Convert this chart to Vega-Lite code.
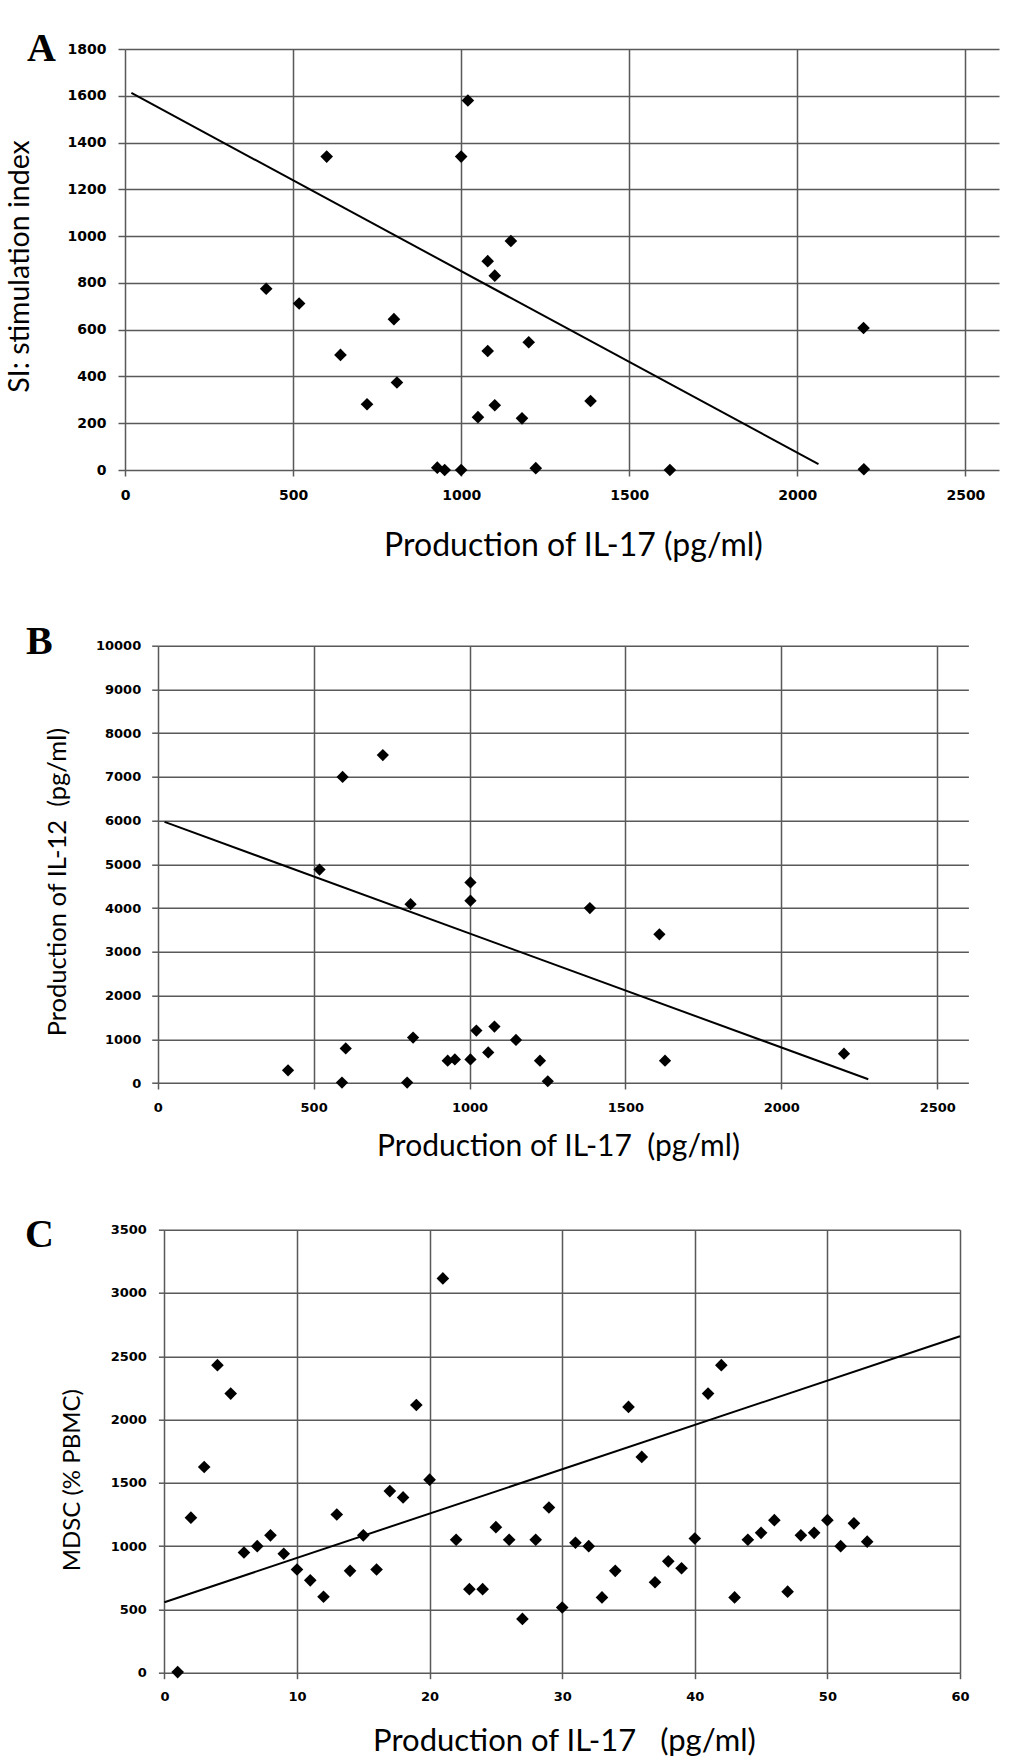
{
  "$schema": "https://vega.github.io/schema/vega-lite/v6.json",
  "background": "white",
  "padding": {"left": 5, "top": 29, "right": 5, "bottom": 0},
  "bounds": "flush",
  "spacing": 175.7,
  "datasets": {
    "pointsA": [
      {"il17": 420, "si": 775}, {"il17": 518, "si": 712}, {"il17": 600, "si": 1340},
      {"il17": 641, "si": 492}, {"il17": 720, "si": 281}, {"il17": 800, "si": 645},
      {"il17": 809, "si": 374}, {"il17": 929, "si": 10}, {"il17": 951, "si": 0},
      {"il17": 1000, "si": 1340}, {"il17": 1000, "si": 0}, {"il17": 1020, "si": 1580},
      {"il17": 1050, "si": 226}, {"il17": 1079, "si": 893}, {"il17": 1079, "si": 509},
      {"il17": 1100, "si": 831}, {"il17": 1100, "si": 277}, {"il17": 1148, "si": 979},
      {"il17": 1181, "si": 221}, {"il17": 1201, "si": 546}, {"il17": 1222, "si": 8},
      {"il17": 1385, "si": 295}, {"il17": 1621, "si": 0}, {"il17": 2197, "si": 607},
      {"il17": 2198, "si": 3}
    ],
    "trendA": [{"il17": 19, "si": 1612}, {"il17": 2063, "si": 25}],
    "pointsB": [
      {"il17": 418, "il12": 290}, {"il17": 519, "il12": 4880}, {"il17": 591, "il12": 10},
      {"il17": 593, "il12": 7000}, {"il17": 603, "il12": 790}, {"il17": 722, "il12": 7500},
      {"il17": 800, "il12": 10}, {"il17": 811, "il12": 4090}, {"il17": 819, "il12": 1040},
      {"il17": 930, "il12": 510}, {"il17": 953, "il12": 540}, {"il17": 1003, "il12": 540},
      {"il17": 1003, "il12": 4170}, {"il17": 1003, "il12": 4585}, {"il17": 1022, "il12": 1200},
      {"il17": 1060, "il12": 700}, {"il17": 1080, "il12": 1290}, {"il17": 1149, "il12": 985},
      {"il17": 1226, "il12": 510}, {"il17": 1251, "il12": 40}, {"il17": 1386, "il12": 4000},
      {"il17": 1609, "il12": 3400}, {"il17": 1627, "il12": 510}, {"il17": 2201, "il12": 670}
    ],
    "trendB": [{"il17": 22, "il12": 5970}, {"il17": 2279, "il12": 85}],
    "pointsC": [
      {"il17": 1, "mdsc": 5}, {"il17": 2, "mdsc": 1225}, {"il17": 3, "mdsc": 1625},
      {"il17": 4, "mdsc": 2430}, {"il17": 5, "mdsc": 2205}, {"il17": 6, "mdsc": 950},
      {"il17": 7, "mdsc": 1000}, {"il17": 8, "mdsc": 1085}, {"il17": 9, "mdsc": 940},
      {"il17": 10, "mdsc": 815}, {"il17": 11, "mdsc": 730}, {"il17": 12, "mdsc": 600},
      {"il17": 13, "mdsc": 1250}, {"il17": 14, "mdsc": 805}, {"il17": 15, "mdsc": 1085},
      {"il17": 16, "mdsc": 815}, {"il17": 17, "mdsc": 1435}, {"il17": 18, "mdsc": 1385},
      {"il17": 19, "mdsc": 2115}, {"il17": 20, "mdsc": 1525}, {"il17": 21, "mdsc": 3115},
      {"il17": 22, "mdsc": 1050}, {"il17": 23, "mdsc": 660}, {"il17": 24, "mdsc": 660},
      {"il17": 25, "mdsc": 1150}, {"il17": 26, "mdsc": 1050}, {"il17": 27, "mdsc": 425},
      {"il17": 28, "mdsc": 1050}, {"il17": 29, "mdsc": 1305}, {"il17": 30, "mdsc": 515},
      {"il17": 31, "mdsc": 1027}, {"il17": 32, "mdsc": 1000}, {"il17": 33, "mdsc": 595},
      {"il17": 34, "mdsc": 805}, {"il17": 35, "mdsc": 2100}, {"il17": 36, "mdsc": 1705},
      {"il17": 37, "mdsc": 715}, {"il17": 38, "mdsc": 880}, {"il17": 39, "mdsc": 825},
      {"il17": 40, "mdsc": 1060}, {"il17": 41, "mdsc": 2205}, {"il17": 42, "mdsc": 2430},
      {"il17": 43, "mdsc": 595}, {"il17": 44, "mdsc": 1050}, {"il17": 45, "mdsc": 1105},
      {"il17": 46, "mdsc": 1205}, {"il17": 47, "mdsc": 640}, {"il17": 48, "mdsc": 1085},
      {"il17": 49, "mdsc": 1105}, {"il17": 50, "mdsc": 1205}, {"il17": 51, "mdsc": 1000},
      {"il17": 52, "mdsc": 1180}, {"il17": 53, "mdsc": 1035}
    ],
    "trendC": [{"il17": 0, "mdsc": 557}, {"il17": 60, "mdsc": 2658}]
  },
  "vconcat": [
    {
      "width": 874,
      "height": 421,
      "title": {"text": "A", "dx": -98, "dy": 31},
      "layer": [
        {
          "data": {"name": "pointsA"},
          "mark": {"type": "point", "shape": "diamond", "filled": true, "color": "black", "opacity": 1, "size": 160},
          "encoding": {
            "x": {
              "field": "il17", "type": "quantitative",
              "scale": {"domain": [0, 2500]},
              "axis": {
                "values": [0, 500, 1000, 1500, 2000, 2500],
                "labelFontSize": 14,
                "title": "Production of IL-17 (pg/ml)",
                "titleFontSize": 32,
                "titleX": 448, "titleY": 85
              }
            },
            "y": {
              "field": "si", "type": "quantitative",
              "scale": {"domain": [0, 1800]},
              "axis": {
                "values": [0, 200, 400, 600, 800, 1000, 1200, 1400, 1600, 1800],
                "labelFontSize": 14,
                "tickSize": 7,
                "title": "SI: stimulation index",
                "titleFontSize": 28.5,
                "titleX": -97, "titleY": 217
              }
            }
          }
        },
        {
          "data": {"name": "trendA"},
          "mark": {"type": "line", "color": "black", "strokeWidth": 2},
          "encoding": {
            "x": {"field": "il17", "type": "quantitative"},
            "y": {"field": "si", "type": "quantitative"}
          }
        }
      ]
    },
    {
      "bounds": "flush",
      "spacing": 146,
      "vconcat": [
        {
          "width": 810.7,
          "height": 437.3,
          "title": {"text": "B", "dx": -99, "dy": 26.7},
          "layer": [
            {
              "data": {"name": "pointsB"},
              "mark": {"type": "point", "shape": "diamond", "filled": true, "color": "black", "opacity": 1, "size": 150},
              "encoding": {
                "x": {
                  "field": "il17", "type": "quantitative",
                  "scale": {"domain": [0, 2500], "range": [32.7, 843.4]},
                  "axis": {
                    "values": [0, 500, 1000, 1500, 2000, 2500],
                    "labelFontSize": 13,
                    "title": "Production of IL-17 \u00a0(pg/ml)",
                    "titleFontSize": 30,
                    "titleX": 433, "titleY": 72
                  }
                },
                "y": {
                  "field": "il12", "type": "quantitative",
                  "scale": {"domain": [0, 10000]},
                  "axis": {
                    "values": [0, 1000, 2000, 3000, 4000, 5000, 6000, 7000, 8000, 9000, 10000],
                    "offset": -32.7,
                    "labelFontSize": 13,
                    "labelPadding": 11,
                    "title": "Production of IL-12 \u00a0(pg/ml)",
                    "titleFontSize": 25.5,
                    "titleX": -92, "titleY": 236
                  }
                }
              }
            },
            {
              "data": {"name": "trendB"},
              "mark": {"type": "line", "color": "black", "strokeWidth": 2},
              "encoding": {
                "x": {"field": "il17", "type": "quantitative"},
                "y": {"field": "il12", "type": "quantitative"}
              }
            }
          ]
        },
        {
          "width": 795.6,
          "height": 443,
          "title": {"text": "C", "dx": -100, "dy": 35},
          "layer": [
            {
              "data": {"name": "pointsC"},
              "mark": {"type": "point", "shape": "diamond", "filled": true, "color": "black", "opacity": 1, "size": 160},
              "encoding": {
                "x": {
                  "field": "il17", "type": "quantitative",
                  "scale": {"domain": [0, 60], "range": [39.4, 835]},
                  "axis": {
                    "values": [0, 10, 20, 30, 40, 50, 60],
                    "labelFontSize": 13,
                    "title": "Production of IL-17 \u00a0\u00a0(pg/ml)",
                    "titleFontSize": 31,
                    "titleX": 439, "titleY": 78
                  }
                },
                "y": {
                  "field": "mdsc", "type": "quantitative",
                  "scale": {"domain": [0, 3500]},
                  "axis": {
                    "values": [0, 500, 1000, 1500, 2000, 2500, 3000, 3500],
                    "offset": -39.4,
                    "labelFontSize": 13,
                    "title": "MDSC (% PBMC)",
                    "titleFontSize": 24,
                    "titleX": -85, "titleY": 250
                  }
                }
              }
            },
            {
              "data": {"name": "trendC"},
              "mark": {"type": "line", "color": "black", "strokeWidth": 2},
              "encoding": {
                "x": {"field": "il17", "type": "quantitative"},
                "y": {"field": "mdsc", "type": "quantitative"}
              }
            }
          ]
        }
      ]
    }
  ],
  "config": {
    "view": {"stroke": null},
    "font": "Lato",
    "title": {
      "font": "Liberation Serif",
      "fontSize": 40,
      "fontWeight": "bold",
      "color": "black",
      "anchor": "start",
      "frame": "group",
      "baseline": "alphabetic",
      "offset": 0
    },
    "axis": {
      "domain": false,
      "grid": true,
      "gridColor": "#595959",
      "gridWidth": 1.5,
      "gridOpacity": 1,
      "ticks": true,
      "tickColor": "#595959",
      "tickWidth": 1.5,
      "tickSize": 6,
      "format": "d",
      "labelFont": "DejaVu Sans",
      "labelFontWeight": "bold",
      "labelColor": "black",
      "labelPadding": 12,
      "labelFlush": false,
      "labelOverlap": false,
      "titleFont": "Lato",
      "titleFontWeight": "normal",
      "titleColor": "black",
      "titleAlign": "center",
      "titleBaseline": "alphabetic"
    }
  }
}
